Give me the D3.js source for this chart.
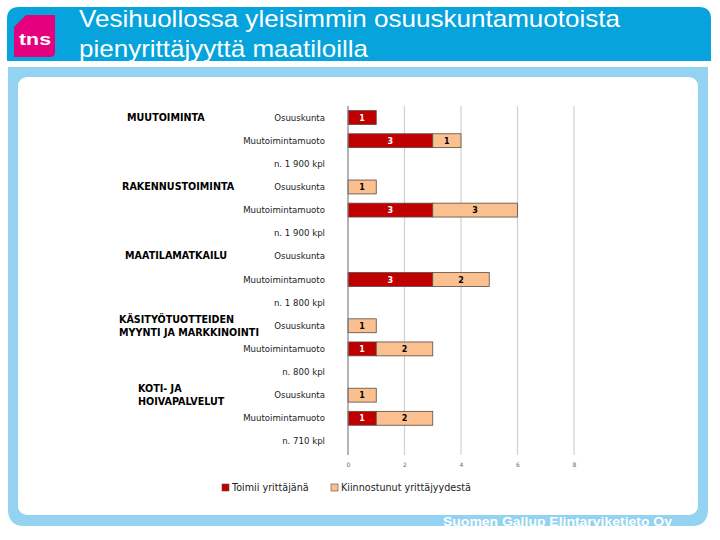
<!DOCTYPE html>
<html>
<head>
<meta charset="utf-8">
<script src="https://cdn.jsdelivr.net/npm/d3@7"></script>
<style>
  body { margin: 0; background: #fff; }
  svg { display: block; }
</style>
</head>
<body>
<svg id="chart" width="720" height="540"></svg>
<script>
// rows, top to bottom
const rowLabels = [
  "Osuuskunta", "Muutoimintamuoto", "n. 1 900 kpl",
  "Osuuskunta", "Muutoimintamuoto", "n. 1 900 kpl",
  "Osuuskunta", "Muutoimintamuoto", "n. 1 800 kpl",
  "Osuuskunta", "Muutoimintamuoto", "n. 800 kpl",
  "Osuuskunta", "Muutoimintamuoto", "n. 710 kpl"
];
const toimii = [1, 3, 0, 0, 3, 0, 0, 3, 0, 0, 1, 0, 0, 1, 0];
const kiinnostunut = [0, 1, 0, 1, 3, 0, 0, 2, 0, 1, 2, 0, 1, 2, 0];
const seriesNames = ["Toimii yrittäjänä", "Kiinnostunut yrittäjyydestä"];
const xTicks = [0, 2, 4, 6, 8];

// group headings: first row index + text lines + left x
const groups = [
  { row: 0, lines: ["MUUTOIMINTA"], x: 127 },
  { row: 3, lines: ["RAKENNUSTOIMINTA"], x: 122 },
  { row: 6, lines: ["MAATILAMATKAILU"], x: 125 },
  { row: 9, lines: ["KÄSITYÖTUOTTEIDEN", "MYYNTI JA MARKKINOINTI"], x: 119 },
  { row: 12, lines: ["KOTI- JA", "HOIVAPALVELUT"], x: 138 }
];

const red = "#c00000", peach = "#fac090";
const font = "Verdana, 'DejaVu Sans', sans-serif";
const svg = d3.select("#chart");

// ---- slide frame ----
svg.append("path")
  .attr("d", "M7,61 L7,19 Q7,7 19,7 L699,7 Q711,7 711,19 L711,61 Z")
  .attr("fill", "#06a3dc");
svg.append("path")
  .attr("d", "M8,67 L708,67 L708,509 Q708,526 692,526 L24,526 Q8,526 8,509 Z")
  .attr("fill", "#93d2f0");
svg.append("rect")
  .attr("x", 18).attr("y", 77).attr("width", 680).attr("height", 438)
  .attr("rx", 9).attr("fill", "#fff");

// tns logo
svg.append("path")
  .attr("d", "M26,15 L55,15 L55,52 Q55,57 50,57 L14,57 L14,27 Z")
  .attr("fill", "#e5007e");
svg.append("text")
  .attr("x", 35).attr("y", 45).attr("text-anchor", "middle")
  .attr("font-family", "Arial, 'Liberation Sans', sans-serif")
  .attr("font-weight", "bold").attr("font-size", 16).attr("fill", "#fff")
  .attr("textLength", 32).attr("lengthAdjust", "spacingAndGlyphs")
  .text("tns");

// title
const title = svg.append("text")
  .attr("font-family", "Arial, 'Liberation Sans', sans-serif")
  .attr("font-size", 24).attr("fill", "#fff");
title.append("tspan").attr("x", 79).attr("y", 27)
  .attr("textLength", 541).attr("lengthAdjust", "spacingAndGlyphs")
  .text("Vesihuollossa yleisimmin osuuskuntamuotoista");
title.append("tspan").attr("x", 79).attr("y", 57)
  .attr("textLength", 289).attr("lengthAdjust", "spacingAndGlyphs")
  .text("pienyrittäjyyttä maatiloilla");

// footer
svg.append("text")
  .attr("x", 443).attr("y", 526)
  .attr("font-family", "Arial, 'Liberation Sans', sans-serif")
  .attr("font-weight", "bold").attr("font-size", 13).attr("fill", "#fff")
  .attr("textLength", 229).attr("lengthAdjust", "spacingAndGlyphs")
  .text("Suomen Gallup Elintarviketieto Oy");

// ---- chart ----
const x = d3.scaleLinear().domain([0, 8]).range([348, 574]);
const y = d3.scaleBand().domain(d3.range(rowLabels.length)).range([106, 453]).paddingInner(0.4).paddingOuter(0.2);

// gridlines
svg.append("g").selectAll("line")
  .data(xTicks.slice(1))
  .join("line")
  .attr("x1", d => x(d)).attr("x2", d => x(d))
  .attr("y1", 106).attr("y2", 455)
  .attr("stroke", "#d0d0d0").attr("stroke-width", 1.2);

// x tick labels
svg.append("g")
  .attr("transform", "translate(0,455)")
  .call(d3.axisBottom(x).tickValues(xTicks).tickSize(0).tickPadding(8))
  .call(g => g.select(".domain").remove())
  .selectAll("text")
  .attr("font-family", font)
  .attr("font-size", 6).attr("fill", "#666");

// bars
const rows = rowLabels.map((d, i) => ({ i, a: toimii[i], b: kiinnostunut[i] }));
const barG = svg.append("g");
rows.forEach(r => {
  const segs = [];
  if (r.a > 0) segs.push({ x0: 0, x1: r.a, v: r.a, fill: red, txt: "#fff" });
  if (r.b > 0) segs.push({ x0: r.a, x1: r.a + r.b, v: r.b, fill: peach, txt: "#000" });
  segs.forEach(s => {
    barG.append("rect")
      .attr("x", x(s.x0)).attr("y", y(r.i))
      .attr("width", x(s.x1) - x(s.x0)).attr("height", y.bandwidth())
      .attr("fill", s.fill).attr("stroke", "#5a4a40").attr("stroke-width", 0.8);
    barG.append("text")
      .attr("x", (x(s.x0) + x(s.x1)) / 2).attr("y", y(r.i) + y.bandwidth() / 2 + 3)
      .attr("text-anchor", "middle")
      .attr("font-family", font)
      .attr("font-weight", "bold").attr("font-size", 8).attr("fill", s.txt)
      .text(s.v);
  });
});

// y axis line
svg.append("line")
  .attr("x1", 348).attr("x2", 348).attr("y1", 106).attr("y2", 455)
  .attr("stroke", "#808080").attr("stroke-width", 1.2);

// row labels
svg.append("g").selectAll("text")
  .data(rowLabels)
  .join("text")
  .attr("x", 325).attr("y", (d, i) => y(i) + y.bandwidth() / 2 + 3)
  .attr("text-anchor", "end")
  .attr("font-family", font)
  .attr("font-size", 8.6).attr("fill", "#222")
  .text(d => d);

// group headings
groups.forEach(g => {
  const cy = y(g.row) + y.bandwidth() / 2;
  const t = svg.append("text")
    .attr("font-family", font)
    .attr("font-weight", "bold").attr("font-size", 9.6).attr("fill", "#000");
  const off = g.lines.length > 1 ? -3 : 3;
  g.lines.forEach((ln, k) => {
    t.append("tspan").attr("x", g.x).attr("y", cy + off + k * 13).text(ln);
  });
});

// legend
const legend = svg.append("g").attr("transform", "translate(222,488)");
[[0, red], [109, peach]].forEach(([dx, c], k) => {
  legend.append("rect").attr("x", dx).attr("y", -4).attr("width", 7).attr("height", 7)
    .attr("fill", c).attr("stroke", "#5a4a40").attr("stroke-width", 0.6);
  legend.append("text").attr("x", dx + 10).attr("y", 3)
    .attr("font-family", font)
    .attr("font-size", 9.6).attr("fill", "#222")
    .text(seriesNames[k]);
});
</script>
</body>
</html>
